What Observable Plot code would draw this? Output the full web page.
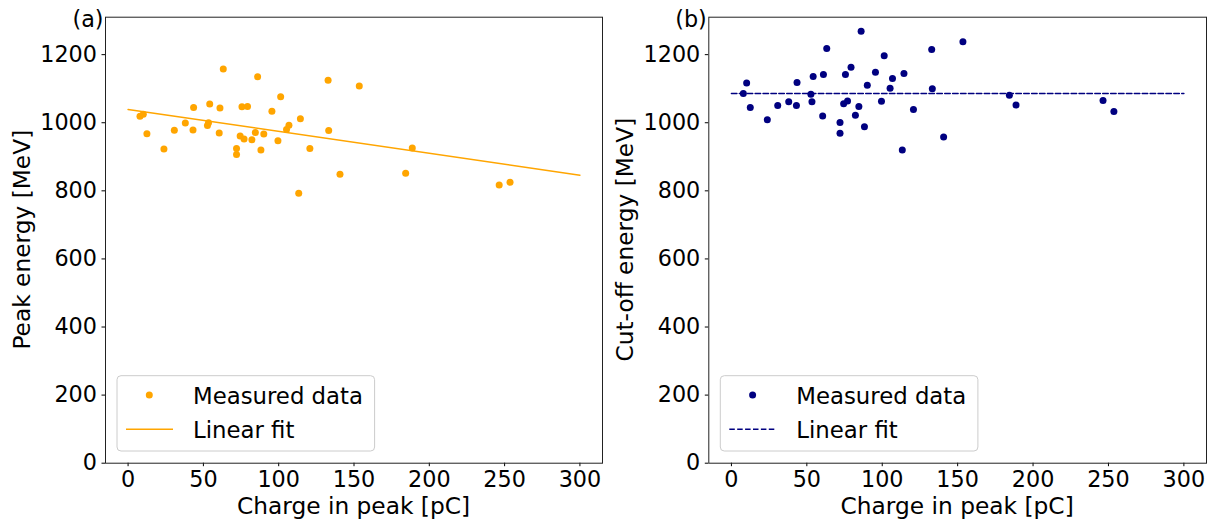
<!DOCTYPE html>
<html><head><meta charset="utf-8">
<script src="https://cdn.jsdelivr.net/npm/d3@7"></script>
<script src="https://cdn.jsdelivr.net/npm/@observablehq/plot@0.6"></script>
<style>
body{margin:0;background:#fff;}
#wrap{position:relative;width:1217px;height:525px;font-family:"DejaVu Sans",sans-serif;}
#wrap svg{position:absolute;top:0;overflow:visible;}
</style></head><body><div id="wrap"></div>
<script>
// Charge in peak [pC] (shared by both panels)
const charge = [7.9, 10.1, 12.5, 23.8, 30.7, 38.0, 43.1, 43.5, 52.7, 53.4, 54.2, 60.5, 61.0, 63.2, 72.0, 72.0, 74.4, 75.6, 77.0, 79.3, 82.2, 84.5, 86.0, 88.2, 90.1, 95.5, 99.5, 101.3, 105.2, 106.8, 113.3, 114.4, 120.7, 132.8, 133.2, 140.7, 153.5, 184.3, 188.7, 246.4, 253.6];
// (a) Peak energy [MeV]
const peakEnergy = [1019, 1025, 968, 923, 978, 999, 979, 1045, 992, 1000, 1055, 970, 1043, 1158, 924, 907, 961, 1047, 952, 1048, 950, 971, 1135, 920, 967, 1034, 947, 1076, 980, 993, 793, 1012, 924, 1125, 977, 849, 1108, 852, 926, 817, 825];
// (b) Cut-off energy [MeV]
const cutoffEnergy = [1086, 1117, 1045, 1009, 1051, 1062, 1051, 1118, 1084, 1062, 1136, 1020, 1142, 1218, 1001, 969, 1056, 1142, 1064, 1163, 1022, 1048, 1269, 988, 1110, 1148, 1063, 1197, 1101, 1130, 920, 1145, 1039, 1215, 1100, 958, 1238, 1081, 1052, 1065, 1033];
// Linear fits
const fitCharge = [0, 300];
const fitPeak = [1039, 846];
const fitCutoff = [1086, 1086];
// Ticks
const xTicks = [0, 50, 100, 150, 200, 250, 300];
const yTicks = [0, 200, 400, 600, 800, 1000, 1200];

const FONT = "DejaVu Sans";
const FS = 22.3;        // ticks, panel tags
const FS_LEG = 22.8;    // legend
const FS_LABEL = 23.3;  // axis labels
const H = 525, MT = 16.7, MB = 62.3;

function panel({left, width, marginLeft, marginRight, yValues, fitValues, color, dashed, yLabel, tag}) {
  const data = charge.map((c, i) => ({c, e: yValues[i]}));
  const fit = fitCharge.map((c, i) => ({c, e: fitValues[i]}));
  const svg = Plot.plot({
    width, height: H, marginLeft, marginRight, marginTop: MT, marginBottom: MB,
    style: {fontFamily: FONT, fontSize: FS + "px", background: "transparent", color: "#000", overflow: "visible"},
    x: {domain: [-15, 315]},
    y: {domain: [0, 1310]},
    marks: [
      Plot.dot(data, {x: "c", y: "e", r: 3.5, fill: color, stroke: "none"}),
      Plot.line(fit, {x: "c", y: "e", stroke: color, strokeWidth: 1.5, strokeDasharray: dashed ? "5.5,2.4" : undefined}),
      Plot.axisX({ticks: xTicks, tickSize: 3.5, tickPadding: 4, tickFormat: d => String(d), label: null, fontSize: FS}),
      Plot.axisY({ticks: yTicks, tickSize: 3.5, tickPadding: 5, tickFormat: d => String(d), label: null, fontSize: FS}),
      Plot.frame({stroke: "#222", strokeWidth: 1})
    ]
  });
  svg.style.left = left + "px";
  const s = d3.select(svg);
  const fl = marginLeft, fr = width - marginRight;
  const txt = (x, y, t, anchor, fs) => s.append("text").attr("x", x).attr("y", y)
    .attr("text-anchor", anchor).attr("font-family", FONT).attr("font-size", fs).attr("fill", "#000").text(t);
  // panel tag
  txt(fl - 1.5, 27, tag, "end", FS);
  // x label
  txt((fl + fr) / 2, 514, "Charge in peak [pC]", "middle", FS_LABEL);
  // y label
  s.append("text").attr("transform", `translate(${fl - 75},${(MT + H - MB) / 2}) rotate(-90)`)
    .attr("text-anchor", "middle").attr("font-family", FONT).attr("font-size", FS_LABEL).attr("fill", "#000").text(yLabel);
  // legend
  const g = s.append("g");
  g.append("rect").attr("x", fl + 12).attr("y", 375.7).attr("width", 257.6).attr("height", 75.3)
    .attr("rx", 4).attr("fill", "#fff").attr("fill-opacity", 0.8).attr("stroke", "#cccccc").attr("stroke-width", 1);
  g.append("circle").attr("cx", fl + 44.3).attr("cy", 395).attr("r", 3.5).attr("fill", color);
  g.append("line").attr("x1", fl + 21).attr("x2", fl + 68).attr("y1", 429.3).attr("y2", 429.3)
    .attr("stroke", color).attr("stroke-width", 1.5).attr("stroke-dasharray", dashed ? "5.5,2.4" : null);
  txt(fl + 88, 404, "Measured data", "start", FS_LEG);
  txt(fl + 88, 438, "Linear fit", "start", FS_LEG);
  return svg;
}

const wrap = document.getElementById("wrap");
wrap.appendChild(panel({left: 0, width: 608, marginLeft: 105, marginRight: 6,
  yValues: peakEnergy, fitValues: fitPeak, color: "orange", dashed: false, yLabel: "Peak energy [MeV]", tag: "(a)"}));
wrap.appendChild(panel({left: 608, width: 609, marginLeft: 100.3, marginRight: 11,
  yValues: cutoffEnergy, fitValues: fitCutoff, color: "navy", dashed: true, yLabel: "Cut-off energy [MeV]", tag: "(b)"}));
</script></body></html>
